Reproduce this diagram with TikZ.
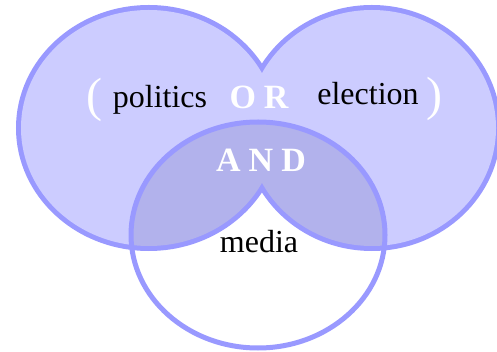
\documentclass[tikz,border=0pt]{standalone}
\usepackage{fontspec}
\setmainfont{Liberation Serif}
\definecolor{lightfill}{RGB}{204,204,255}
\definecolor{darkfill}{RGB}{178,178,236}
\definecolor{rim}{RGB}{153,153,255}
\begin{document}
\begin{tikzpicture}[x=1pt,y=-1pt,
  word/.style={font=\fontsize{32}{32}\selectfont, text=black, inner sep=0pt, anchor=base},
  opword/.style={font=\fontsize{34}{34}\selectfont\bfseries, text=white, inner sep=0pt, anchor=base},
  paren/.style={font=\fontsize{48}{48}\selectfont, text=white, inner sep=0pt, anchor=center}]
\useasboundingbox (0,0) rectangle (497,352);
% outer rims of the two upper sets (double width, inner half covered by fill)
\draw[rim, line width=10pt] (148.8,128) ellipse [x radius=127.8, y radius=118];
\draw[rim, line width=10pt] (371.9,128) ellipse [x radius=124.1, y radius=118];
\fill[lightfill] (148.8,128) ellipse [x radius=127.8, y radius=118];
\fill[lightfill] (371.9,128) ellipse [x radius=124.1, y radius=118];
% white inside of media below the union
\begin{scope}
  \clip (258,235) ellipse [x radius=127, y radius=113];
  \fill[white] (258,235) ellipse [x radius=127, y radius=113];
  \draw[rim, line width=10pt] (148.8,128) ellipse [x radius=127.8, y radius=118];
  \draw[rim, line width=10pt] (371.9,128) ellipse [x radius=124.1, y radius=118];
  \fill[darkfill] (148.8,128) ellipse [x radius=127.8, y radius=118];
  \fill[darkfill] (371.9,128) ellipse [x radius=124.1, y radius=118];
\end{scope}
\draw[rim, line width=5pt] (258,235) ellipse [x radius=127, y radius=113];
% labels
\node[paren] (lp) at (94,100) {(};
\node[paren] (rp) at (434,99) {)};
\node[word] (pol) at (160,108) {politics};
\node[opword] (or) at (259,109) {O\kern8pt R};
\node[word] (ele) at (368,105) {election};
\node[opword] (and) at (261,172) {A\kern8pt N\kern8pt D};
\node[word] (med) at (259,253) {media};
\end{tikzpicture}
\end{document}
